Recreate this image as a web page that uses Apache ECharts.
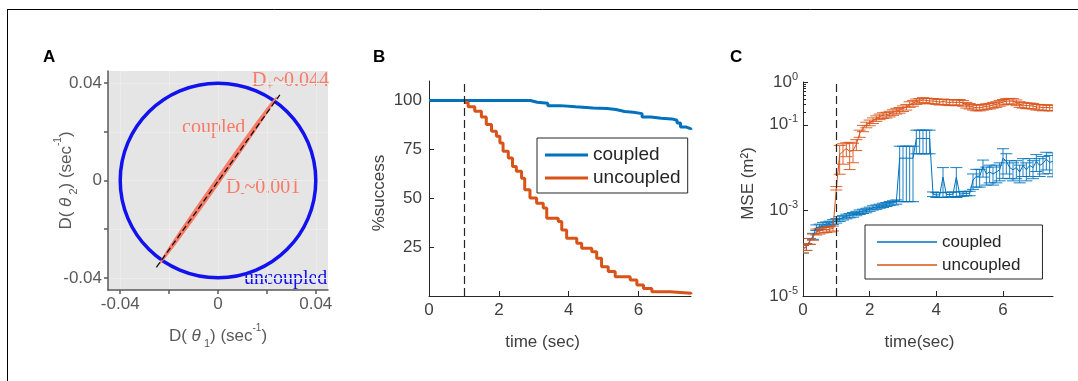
<!DOCTYPE html>
<html><head><meta charset="utf-8">
<script src="https://cdn.jsdelivr.net/npm/echarts@6/dist/echarts.min.js"></script>
<style>html,body{margin:0;padding:0;background:#fff}#c{width:1078px;height:381px}</style>
</head><body><div id="c"></div>
<script>
// ---------- Panel A ----------
const circleCenter = [0, 0];
const circleRadius = 0.04;
const coupledAxisStart = [-0.0252, -0.0357];
const coupledAxisEnd = [0.0253, 0.0352];
const coupledEllipseTip = [0.0239, 0.0342];
const coupledMinor = 0.001;
const aTicks = [-0.04, -0.02, 0, 0.02, 0.04];
const aLabels = [-0.04, 0, 0.04];

// ---------- Panel B ----------
const stimTime = 1;
const bCoupledT   = [0, 2.9, 3.1, 3.4, 3.75, 4.2, 4.7, 5.1, 5.35, 5.6, 5.85, 6.1, 6.35, 6.65, 6.95, 7.1, 7.2, 7.35, 7.5];
const bCoupledPct = [100, 99.1, 98.6, 97.4, 96.8, 96.2, 95.9, 95.4, 94.4, 94.0, 93.3, 91.6, 90.9, 90.6, 89.9, 88.5, 86.5, 85.5, 85.1];
const bUncoupledT   = [1.0, 1.12, 1.31, 1.5, 1.64, 1.79, 1.93, 2.03, 2.12, 2.27, 2.39, 2.5, 2.65, 2.74, 2.89, 3.08, 3.27, 3.37, 3.7, 3.8, 3.94, 4.23, 4.37, 4.66, 4.8, 4.94, 5.13, 5.33, 5.76, 5.95, 6.14, 6.38, 6.9, 7.5];
const bUncoupledPct = [99, 96.8, 94.5, 91.6, 87.7, 84.3, 81.7, 78.3, 74, 70.6, 66.3, 63.8, 60.3, 54.4, 50.1, 47.5, 45, 39.8, 38.1, 33.8, 29.6, 27, 24.4, 22.7, 19.3, 15, 12.5, 9.9, 8.2, 5.6, 3.9, 2.2, 1.4, 0.9];
const bXTicks = [0, 2, 4, 6];
const bYTicks = [25, 50, 75, 100];

// ---------- Panel C ----------
const cTime = [0,0.1,0.2,0.3,0.4,0.5,0.6,0.7,0.8,0.9,1.0,1.1,1.2,1.3,1.4,1.5,1.6,1.7,1.8,1.9,2.0,2.1,2.2,2.3,2.4,2.5,2.6,2.7,2.8,2.9,3.0,3.1,3.2,3.3,3.4,3.5,3.6,3.7,3.8,3.9,4.0,4.1,4.2,4.3,4.4,4.5,4.6,4.7,4.8,4.9,5.0,5.1,5.2,5.3,5.4,5.5,5.6,5.7,5.8,5.9,6.0,6.1,6.2,6.3,6.4,6.5,6.6,6.7,6.8,6.9,7.0,7.1,7.2,7.3,7.4,7.5];
const cCoupledMSE = [1.26e-4,1.41e-4,1.91e-4,2.51e-4,3.98e-4,4.17e-4,4.57e-4,4.79e-4,5.01e-4,5.37e-4,5.75e-4,6.31e-4,6.76e-4,7.24e-4,7.59e-4,7.94e-4,8.51e-4,9.12e-4,9.55e-4,1.00e-3,1.07e-3,1.15e-3,1.20e-3,1.26e-3,1.32e-3,1.38e-3,1.45e-3,1.51e-3,1.58e-3,
  1.66e-2,1.66e-2,1.66e-2,1.66e-2,1.66e-2,4.8e-2,4.8e-2,4.8e-2,4.8e-2,4.8e-2,2.4e-3,2.3e-3,2.3e-3,6.0e-3,2.35e-3,2.35e-3,2.4e-3,6.0e-3,2.4e-3,2.45e-3,2.5e-3,2.5e-3,5.1e-3,6.3e-3,6.3e-3,1.05e-2,7.1e-3,7.9e-3,7.1e-3,7.9e-3,8.9e-3,1.66e-2,1.41e-2,1.0e-2,8.9e-3,1.0e-2,7.9e-3,1.12e-2,8.9e-3,1.12e-2,1.0e-2,1.41e-2,1.12e-2,1.26e-2,1.58e-2,1.32e-2,1.41e-2];
const cCoupledErr = [2.5e-5,2.5e-5,3e-5,4e-5,6e-5,6e-5,6e-5,6e-5,6e-5,7e-5,7e-5,8e-5,8e-5,9e-5,9e-5,1e-4,1e-4,1.1e-4,1.1e-4,1.2e-4,1.2e-4,1.3e-4,1.4e-4,1.4e-4,1.5e-4,1.5e-4,1.6e-4,1.7e-4,1.8e-4,
  1.5e-2,1.5e-2,1.5e-2,1.5e-2,1.5e-2,2.7e-2,2.7e-2,2.7e-2,2.7e-2,2.7e-2,3e-4,3e-4,3e-4,4e-3,3e-4,3e-4,3e-4,4e-3,3e-4,3e-4,3e-4,3e-4,2e-3,2.8e-3,2.8e-3,4.5e-3,3.2e-3,3.5e-3,3.2e-3,3.5e-3,4e-3,1.1e-2,7e-3,4.5e-3,4e-3,4.5e-3,3.5e-3,5e-3,4e-3,5e-3,4.5e-3,6e-3,5e-3,5.5e-3,7e-3,6e-3,8e-3];
const cUncoupledMSE = [1.26e-4,1.41e-4,1.91e-4,2.4e-4,3.16e-4,3.31e-4,3.47e-4,3.55e-4,3.63e-4,3.8e-4,3.3e-3,2.0e-2,2.4e-2,2.8e-2,2.4e-2,2.5e-2,3.5e-2,6.3e-2,8.3e-2,1.0e-1,1.12e-1,1.26e-1,1.41e-1,1.55e-1,1.66e-1,1.7e-1,1.8e-1,1.95e-1,2.1e-1,2.2e-1,
  2.4e-1,2.6e-1,3.0e-1,3.2e-1,3.5e-1,3.6e-1,3.8e-1,3.7e-1,3.6e-1,3.6e-1,3.5e-1,3.4e-1,3.5e-1,3.4e-1,3.3e-1,3.4e-1,3.3e-1,3.4e-1,3.2e-1,2.9e-1,2.75e-1,2.6e-1,2.5e-1,2.5e-1,2.6e-1,2.7e-1,2.75e-1,2.9e-1,3.0e-1,3.2e-1,3.4e-1,3.55e-1,3.6e-1,3.55e-1,3.3e-1,3.0e-1,2.9e-1,2.8e-1,2.8e-1,2.75e-1,2.6e-1,2.6e-1,2.5e-1,2.55e-1,2.5e-1,2.5e-1];
const cUncoupledErr = [2.5e-5,2.5e-5,3e-5,4e-5,5e-5,5e-5,5e-5,5e-5,5e-5,5e-5,3e-4,1.3e-2,1.2e-2,1.0e-2,1.5e-2,1.2e-2,1.0e-2,1.2e-2,1.4e-2,1.5e-2,1.7e-2,1.9e-2,2.1e-2,2.3e-2,2.5e-2,2.6e-2,2.7e-2,2.9e-2,3.2e-2,3.3e-2,
  3.6e-2,3.9e-2,4.5e-2,4.8e-2,5e-2,5e-2,5e-2,5e-2,5e-2,5e-2,5e-2,5e-2,5e-2,5e-2,5e-2,5e-2,5e-2,5e-2,4.8e-2,4.4e-2,4.1e-2,3.9e-2,3.8e-2,3.8e-2,3.9e-2,4e-2,4.1e-2,4.4e-2,4.5e-2,4.8e-2,5e-2,5.3e-2,5.4e-2,5.3e-2,5e-2,4.5e-2,4.4e-2,4.2e-2,4.2e-2,4.1e-2,3.9e-2,3.9e-2,3.8e-2,3.8e-2,3.8e-2,3.8e-2];
const cXTicks = [0, 2, 4, 6];
const cYTicks = [1e-5, 1e-3, 1e-1, 1];
const cYMinorTicks = [0.2, 0.3, 0.4, 0.5, 0.6, 0.7, 0.8, 0.9];

// ---------- styles ----------
const SANS = 'Liberation Sans';
const SERIF = 'Liberation Serif';
const BLUE = '#0072BD', ORANGE = '#D95319';
const SALMON = '#F97A66', CIRCLE_BLUE = '#1212EE';
const AXC = '#262626', TXT = '#404040', AGRAY = '#5a5a5a';

const zip = (a, b) => a.map((v, i) => [v, b[i]]);
const zip3 = (a, b, c) => a.map((v, i) => [v, b[i], c[i]]);

const aName = (idx) => '{n|D( }{t|θ}{s| ' + idx + '}{n|) (sec}{p|-1}{n|)}';
const aRich = {
  n: {fontFamily: SANS, fontSize: 17, color: AGRAY, lineHeight: 26},
  t: {fontFamily: SANS, fontSize: 17, color: AGRAY, fontStyle: 'italic', lineHeight: 26},
  s: {fontFamily: SANS, fontSize: 11, color: AGRAY, verticalAlign: 'bottom', lineHeight: 12},
  p: {fontFamily: SANS, fontSize: 10, color: AGRAY, verticalAlign: 'top', lineHeight: 16}
};

function errRender(color) {
  return function (params, api) {
    const x = api.value(0), y = api.value(1), e = api.value(2);
    const yMin = 1e-5;
    const hi = api.coord([x, y + e]);
    const hasLo = (y - e) > yMin;
    const lo = api.coord([x, hasLo ? y - e : yMin]);
    const hw = 6;
    const st = {stroke: color, lineWidth: 1, opacity: 0.9};
    const ch = [
      {type: 'line', shape: {x1: hi[0], y1: hi[1], x2: lo[0], y2: lo[1]}, style: st},
      {type: 'line', shape: {x1: hi[0] - hw, y1: hi[1], x2: hi[0] + hw, y2: hi[1]}, style: st}
    ];
    if (hasLo) ch.push({type: 'line', shape: {x1: lo[0] - hw, y1: lo[1], x2: lo[0] + hw, y2: lo[1]}, style: st});
    return {type: 'group', children: ch};
  };
}

const stimLine = {
  silent: true, symbol: 'none', label: {show: false}, animation: false,
  lineStyle: {color: AXC, type: [8, 4], width: 1.2},
  data: [{xAxis: stimTime}]
};

const option = {
  animation: false,
  backgroundColor: '#fff',
  grid: [
    {left: 108, top: 71, width: 220, height: 219, show: true, backgroundColor: '#e5e5e5', borderWidth: 0},
    {left: 429, top: 81, width: 262, height: 215},
    {left: 803, top: 82, width: 250, height: 214}
  ],
  xAxis: [
    {gridIndex: 0, type: 'value', min: -0.045, max: 0.045,
      axisLine: {onZero: false, lineStyle: {color: AGRAY, width: 1.5}},
      axisTick: {customValues: aTicks, inside: false, length: 4, lineStyle: {color: AGRAY, width: 1.5}},
      axisLabel: {customValues: aLabels, margin: 6, color: AGRAY, fontSize: 17, fontFamily: SANS,
        formatter: v => v === 0 ? '0' : v.toFixed(2)},
      splitLine: {show: true, lineStyle: {color: '#ececec', width: 1}},
      name: aName(1), nameLocation: 'middle', nameGap: 33, nameMoveOverlap: false,
      nameTextStyle: {rich: aRich}},
    {gridIndex: 1, type: 'value', min: 0, max: 7.5,
      axisLine: {onZero: false, lineStyle: {color: AXC, width: 1}},
      axisTick: {customValues: bXTicks, inside: true, length: 5, lineStyle: {color: AXC}},
      axisLabel: {customValues: bXTicks, margin: 6, color: TXT, fontSize: 17, fontFamily: SANS},
      splitLine: {show: false},
      name: 'time (sec)', nameLocation: 'middle', nameGap: 36,
      nameTextStyle: {color: TXT, fontSize: 17, fontFamily: SANS, lineHeight: 20, padding: [0, 35, 0, 0]}},
    {gridIndex: 2, type: 'value', min: 0, max: 7.5,
      axisLine: {onZero: false, lineStyle: {color: AXC, width: 1}},
      axisTick: {customValues: cXTicks, inside: true, length: 5, lineStyle: {color: AXC}},
      axisLabel: {customValues: cXTicks, margin: 6, color: TXT, fontSize: 17, fontFamily: SANS},
      splitLine: {show: false},
      name: 'time(sec)', nameLocation: 'middle', nameGap: 36,
      nameTextStyle: {color: TXT, fontSize: 17, fontFamily: SANS, lineHeight: 20, padding: [0, 17, 0, 0]}}
  ],
  yAxis: [
    {gridIndex: 0, type: 'value', min: -0.045, max: 0.045,
      axisLine: {show: true, onZero: false, lineStyle: {color: AGRAY, width: 1.5}},
      axisTick: {show: true, customValues: aTicks, inside: false, length: 4, lineStyle: {color: AGRAY, width: 1.5}},
      axisLabel: {customValues: aLabels, margin: 6, color: AGRAY, fontSize: 17, fontFamily: SANS,
        formatter: v => v === 0 ? '0' : v.toFixed(2)},
      splitLine: {show: true, lineStyle: {color: '#ececec', width: 1}},
      name: aName(2), nameLocation: 'middle', nameGap: 29, nameRotate: 90, nameMoveOverlap: false,
      nameTextStyle: {rich: aRich}},
    {gridIndex: 1, type: 'value', min: 0, max: 110,
      axisLine: {show: true, onZero: false, lineStyle: {color: AXC, width: 1}},
      axisTick: {show: true, customValues: bYTicks, inside: true, length: 5, lineStyle: {color: AXC}},
      axisLabel: {customValues: bYTicks, margin: 7, color: TXT, fontSize: 17, fontFamily: SANS},
      splitLine: {show: false},
      name: '%success', nameLocation: 'middle', nameGap: 38, nameRotate: 90,
      nameTextStyle: {color: TXT, fontSize: 17, fontFamily: SANS, lineHeight: 20, padding: [0, 9, 0, 0]}},
    {gridIndex: 2, type: 'log', logBase: 10, min: 1e-5, max: 1,
      axisLine: {show: true, onZero: false, lineStyle: {color: AXC, width: 1}},
      axisTick: {show: true, customValues: cYTicks, inside: true, length: 5, lineStyle: {color: AXC}},
      axisLabel: {customValues: cYTicks, margin: 5, color: TXT,
        formatter: v => '{b|10}{e|' + Math.round(Math.log10(v)) + '}',
        rich: {b: {fontSize: 17, fontFamily: SANS, color: TXT, lineHeight: 22},
               e: {fontSize: 11, fontFamily: SANS, color: TXT, verticalAlign: 'top', lineHeight: 12}}},
      splitLine: {show: false}, minorTick: {show: false},
      name: 'MSE (m²)', nameLocation: 'middle', nameGap: 45, nameRotate: 90,
      nameTextStyle: {color: TXT, fontSize: 17, fontFamily: SANS, lineHeight: 20, padding: [0, 0, 0, 11]}},
    {gridIndex: 2, type: 'log', logBase: 10, min: 1e-5, max: 1, position: 'left',
      axisLine: {show: false, onZero: false}, axisLabel: {show: false}, splitLine: {show: false},
      axisTick: {show: true, customValues: cYMinorTicks, inside: true, length: 3, lineStyle: {color: AXC}}}
  ],
  legend: [
    {data: ['coupled', 'uncoupled'], orient: 'vertical', left: 537, top: 138,
      padding: [7, 7, 5, 8], itemGap: 3, itemWidth: 43, itemHeight: 3, icon: 'rect',
      borderColor: AXC, borderWidth: 1, backgroundColor: '#fff', selectedMode: false,
      textStyle: {fontSize: 19, color: AXC, fontFamily: SANS, lineHeight: 20}},
    {data: ['coupled ', 'uncoupled '], orient: 'vertical', left: 865, top: 225,
      padding: [7, 22, 4, 12], itemGap: 3, itemWidth: 60, itemHeight: 1.3, icon: 'rect',
      borderColor: AXC, borderWidth: 1, backgroundColor: '#fff', selectedMode: false,
      formatter: n => n.trim(),
      textStyle: {fontSize: 17, color: AXC, fontFamily: SANS, lineHeight: 20}}
  ],
  series: [
    // Panel A
    {type: 'custom', name: 'uncoupledCircle', xAxisIndex: 0, yAxisIndex: 0, silent: true,
      data: [[circleCenter[0], circleCenter[1], circleRadius]],
      renderItem: (params, api) => {
        const c = api.coord([api.value(0), api.value(1)]);
        const r = api.value(2);
        return {type: 'ellipse', shape: {cx: c[0], cy: c[1], rx: api.size([r, 0])[0], ry: api.size([0, r])[1]},
          style: {fill: 'none', stroke: CIRCLE_BLUE, lineWidth: 3.5}};
      }},
    {type: 'custom', name: 'coupledEllipse', xAxisIndex: 0, yAxisIndex: 0, silent: true,
      data: [[circleCenter[0], circleCenter[1], coupledEllipseTip[0], coupledEllipseTip[1], coupledMinor]],
      renderItem: (params, api) => {
        const c = api.coord([api.value(0), api.value(1)]);
        const p = api.coord([api.value(2), api.value(3)]);
        const dx = p[0] - c[0], dy = p[1] - c[1];
        const len = Math.sqrt(dx * dx + dy * dy);
        const w = api.size([api.value(4), 0])[0];
        return {type: 'ellipse', x: c[0], y: c[1], rotation: -Math.atan2(dy, dx),
          shape: {cx: 0, cy: 0, rx: len, ry: w}, style: {fill: SALMON, stroke: SALMON, lineWidth: 1}};
      }},
    {type: 'line', name: 'coupledAxis', xAxisIndex: 0, yAxisIndex: 0, silent: true, showSymbol: false,
      data: [coupledAxisStart, coupledAxisEnd],
      lineStyle: {color: '#111', width: 1.3, type: [6, 3]}},
    // Panel B
    {type: 'line', name: 'coupled', xAxisIndex: 1, yAxisIndex: 1, step: 'end', showSymbol: false,
      data: zip(bCoupledT, bCoupledPct), color: BLUE, lineStyle: {width: 3, color: BLUE},
      markLine: stimLine, z: 3},
    {type: 'line', name: 'uncoupled', xAxisIndex: 1, yAxisIndex: 1, step: 'end', showSymbol: false,
      data: zip(bUncoupledT, bUncoupledPct), color: ORANGE, lineStyle: {width: 3, color: ORANGE}, z: 3},
    // Panel C
    {type: 'custom', name: 'errCoupled', xAxisIndex: 2, yAxisIndex: 2, silent: true, clip: true,
      data: zip3(cTime, cCoupledMSE, cCoupledErr), encode: {x: 0, y: 1}, renderItem: errRender(BLUE)},
    {type: 'custom', name: 'errUncoupled', xAxisIndex: 2, yAxisIndex: 2, silent: true, clip: true,
      data: zip3(cTime, cUncoupledMSE, cUncoupledErr), encode: {x: 0, y: 1}, renderItem: errRender(ORANGE)},
    {type: 'line', name: 'coupled ', xAxisIndex: 2, yAxisIndex: 2, showSymbol: false,
      data: zip(cTime, cCoupledMSE), color: BLUE, lineStyle: {width: 1, color: BLUE},
      markLine: stimLine},
    {type: 'line', name: 'uncoupled ', xAxisIndex: 2, yAxisIndex: 2, showSymbol: false,
      data: zip(cTime, cUncoupledMSE), color: ORANGE, lineStyle: {width: 1, color: ORANGE}}
  ],
  graphic: [
    {type: 'line', shape: {x1: 7, y1: 9.5, x2: 1078, y2: 9.5}, style: {stroke: '#000', lineWidth: 1}, silent: true},
    {type: 'line', shape: {x1: 7.5, y1: 9, x2: 7.5, y2: 381}, style: {stroke: '#000', lineWidth: 1}, silent: true},
    {type: 'text', left: 43, top: 49, style: {text: 'A', font: 'bold 17px "Liberation Sans"', fill: '#000'}},
    {type: 'text', left: 373, top: 49, style: {text: 'B', font: 'bold 17px "Liberation Sans"', fill: '#000'}},
    {type: 'text', left: 730, top: 49, style: {text: 'C', font: 'bold 17px "Liberation Sans"', fill: '#000'}},
    {type: 'text', x: 252, y: 81, style: {text: '{a|D}{s|+}{a|~0.044}', verticalAlign: 'middle',
      rich: {a: {fontFamily: SERIF, fontSize: 20, fill: SALMON, lineHeight: 24}, s: {fontFamily: SERIF, fontSize: 12, fill: SALMON, verticalAlign: 'bottom', lineHeight: 10}}}},
    {type: 'text', x: 182, y: 128, style: {text: 'coupled', verticalAlign: 'middle', fontFamily: SERIF, fontSize: 20, fill: SALMON}},
    {type: 'text', x: 226, y: 188, style: {text: '{a|D}{s|-}{a|~0.001}', verticalAlign: 'middle',
      rich: {a: {fontFamily: SERIF, fontSize: 20, fill: SALMON, lineHeight: 24}, s: {fontFamily: SERIF, fontSize: 12, fill: SALMON, verticalAlign: 'bottom', lineHeight: 10}}}},
    {type: 'text', x: 244, y: 279, style: {text: 'uncoupled', verticalAlign: 'middle', fontFamily: SERIF, fontSize: 20, fill: CIRCLE_BLUE}}
  ]
};

const chart = echarts.init(document.getElementById('c'), null, {renderer: 'canvas'});
chart.setOption(option);
</script>
</body></html>
